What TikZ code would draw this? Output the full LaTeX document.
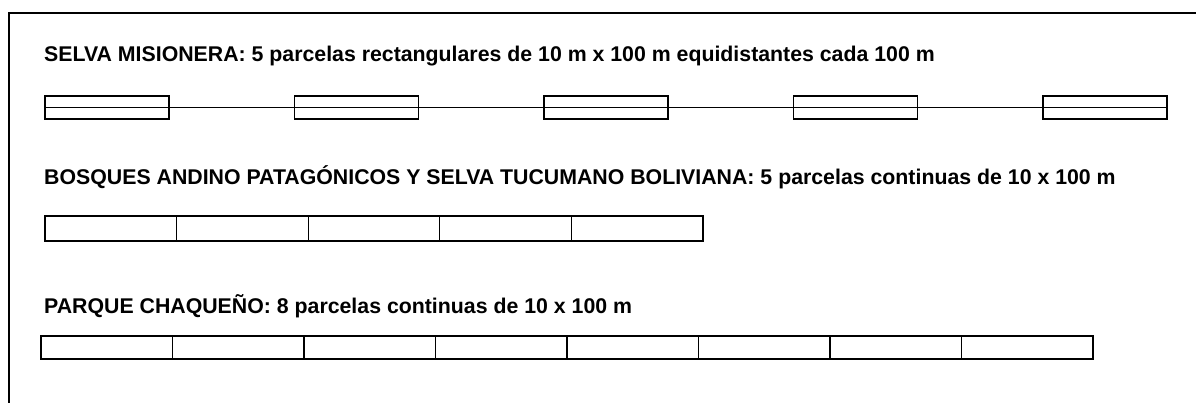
\documentclass[tikz,border=0pt]{standalone}
\usepackage{fontspec}
\setmainfont{Liberation Sans}
\usepackage{tikz}

\tikzset{
    parcela/.style={draw, line width=1.1pt, minimum height=23pt, inner sep=0pt, outer sep=0pt},
    titulo/.style={anchor=base west, inner sep=0pt, font=\fontsize{21.3}{25}\selectfont\bfseries}
}

\begin{document}
\begin{tikzpicture}[x=1pt, y=-1pt]
    \useasboundingbox (0,0) rectangle (1196,403);
    \draw[line width=1.3pt] (1196,13) -- (9,13) -- (9,403);

    % selva misionera
    \node[titulo] (tsm) at (44,62) {SELVA MISIONERA: 5 parcelas rectangulares de 10 m x 100 m equidistantes cada 100 m};
    \foreach \i in {1,...,5}
        \node[parcela, minimum width=124pt, anchor=north west] (sm\i) at ({45+(\i-1)*249.5}, 96) {};
    \draw[line width=1.2pt] (sm1.west) -- (sm5.east);

    % bosques andino patagonicos
    \node[titulo] (tbap) at (44,185) {BOSQUES ANDINO PATAGÓNICOS Y SELVA TUCUMANO BOLIVIANA: 5 parcelas continuas de 10 x 100 m};
    \foreach \i in {1,...,5}
        \node[parcela, minimum width=131.6pt, minimum height=25pt, anchor=north west] (bap\i) at ({45+(\i-1)*131.6}, 216) {};

    % parque chaqueno
    \node[titulo] (tpch) at (44,313) {PARQUE CHAQUEÑO: 8 parcelas continuas de 10 x 100 m};
    \foreach \i in {1,...,8}
        \node[parcela, minimum width=131.5pt, anchor=north west] (pch\i) at ({41+(\i-1)*131.5}, 336) {};
\end{tikzpicture}
\end{document}
